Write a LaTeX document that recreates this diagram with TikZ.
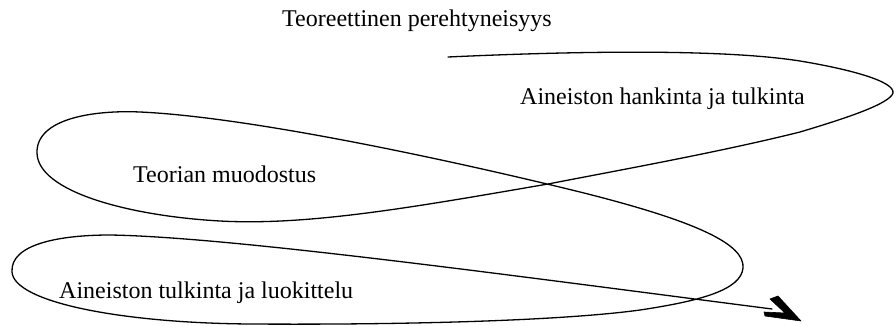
\documentclass[tikz,border=0pt]{standalone}
\usepackage{fontspec}
\setmainfont{Liberation Serif}
\begin{document}
\begin{tikzpicture}[x=1pt,y=-1pt,
  label/.style={anchor=base west,inner sep=0pt,font=\fontsize{24}{28}\selectfont},
  spiral/.style={line width=1.3pt,line join=round,line cap=round},
  headfill/.style={fill=black,draw=black,line width=0.6pt,line join=round}]
\path[use as bounding box] (0,0) rectangle (896,326);

% stage labels
\node[label] (theory)   at (282,27)  {Teoreettinen perehtyneisyys};
\node[label] (acquire)  at (520,105) {Aineiston hankinta ja tulkinta};
\node[label] (form)     at (133,182) {Teorian muodostus};
\node[label] (classify) at (59,298)  {Aineiston tulkinta ja luokittelu};

% end of the spiral
\coordinate (start) at (448,57);
\coordinate (finish) at (772,309);

% the spiral: three loops, right, left, left-bottom
\draw[spiral] (start)
  .. controls (600,50) and (730,50) .. (800,61)
  .. controls (860,71) and (900,84) .. (892,95)
  .. controls (884,106) and (840,120) .. (800,132)
  .. controls (720,152) and (620,170) .. (548,184)
  .. controls (420,206) and (310,226) .. (220,221)
  .. controls (130,216) and (38,192) .. (37,153)
  .. controls (36,118) and (95,110) .. (140,112)
  .. controls (250,117) and (450,160) .. (580,192)
  .. controls (700,222) and (745,245) .. (743,268)
  .. controls (741,290) and (700,301) .. (640,310)
  .. controls (560,321) and (400,325) .. (250,324)
  .. controls (120,323) and (14,302) .. (12,272)
  .. controls (10,244) and (60,235) .. (110,235)
  .. controls (230,237) and (500,274) .. (finish);

% arrowhead at the end of the spiral
\fill[headfill] (770,299) -- (778,296) -- (801,321) -- (765,316)
  -- (764,312) -- (785,313) -- cycle;
\end{tikzpicture}
\end{document}
